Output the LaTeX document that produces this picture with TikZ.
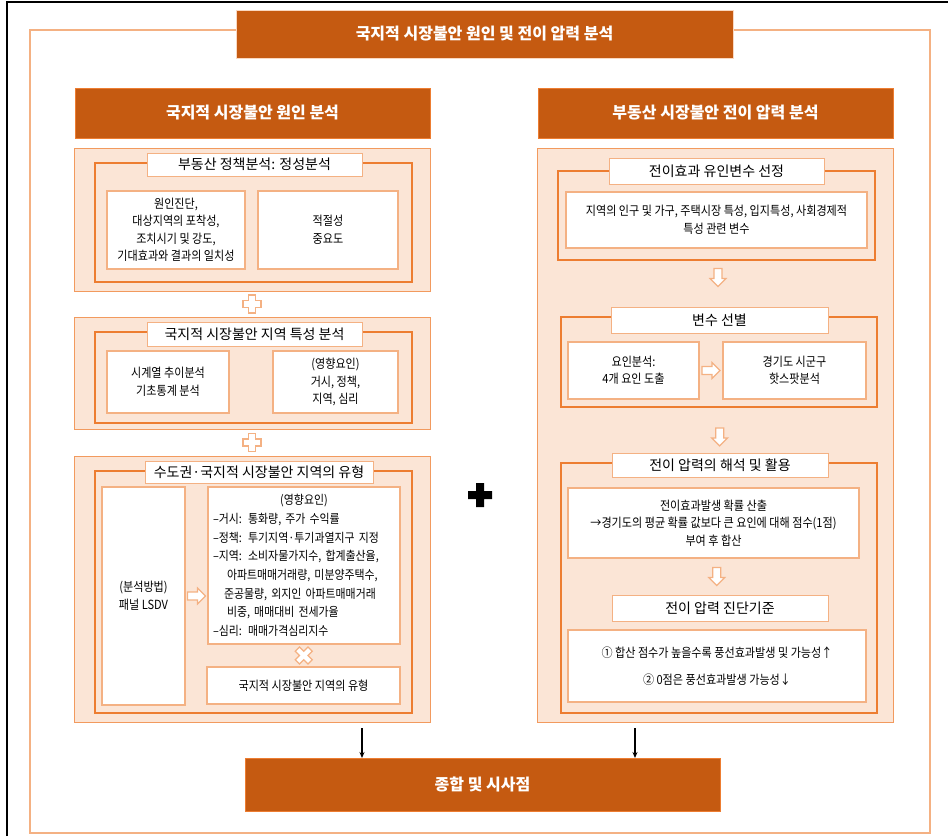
\documentclass[tikz,border=0pt]{standalone}
\usepackage{fontspec}
\newfontfamily\kr{Noto Sans CJK KR}
\newfontfamily\krc[FakeStretch=0.88]{Noto Sans CJK KR}
\usetikzlibrary{calc,arrows.meta}
\definecolor{dk}{HTML}{C55A11}
\definecolor{lt}{HTML}{FBE5D6}
\definecolor{orA}{HTML}{ED7D31}
\definecolor{orB}{HTML}{F4B183}
\definecolor{orC}{HTML}{F29A5E}
\newcommand\bx[7]{\node[#2, minimum width={#5-#3}, minimum height={#6-#4}] (#1) at ({(#3+#5)/2},{(#4+#6)/2}) {#7};}
\tikzset{
  base/.style={inner sep=0pt, outer sep=0pt, anchor=center},
  hdr/.style={base, fill=dk, draw=orA, line width=0.8pt, text=white, font=\kr\bfseries\fontsize{16}{19}\selectfont},
  panel/.style={base, fill=lt, draw=orC, line width=1pt},
  frame/.style={base, draw=orA, line width=2.4pt},
  lbl/.style={base, fill=white, draw=orB, line width=1pt, font=\kr\fontsize{14}{16}\selectfont},
  wbox/.style={base, fill=white, draw=orB, line width=1.3pt, align=center, font=\krc\fontsize{12.6}{17.5}\selectfont},
  hollow/.style={draw=orB, fill=white, line width=1.2pt, line join=miter},
  conn/.style={-{Stealth[length=6pt,width=5pt]}, line width=1.2pt, black},
  hplus/.pic={\draw[hollow] (-3.5,-9) -- (3.5,-9) -- (3.5,-3.5) -- (9,-3.5) -- (9,3.5) -- (3.5,3.5) -- (3.5,9) -- (-3.5,9) -- (-3.5,3.5) -- (-9,3.5) -- (-9,-3.5) -- (-3.5,-3.5) -- cycle;},
  hcross/.pic={\draw[hollow, rotate=45] (-3,-9) -- (3,-9) -- (3,-3) -- (9,-3) -- (9,3) -- (3,3) -- (3,9) -- (-3,9) -- (-3,3) -- (-9,3) -- (-9,-3) -- (-3,-3) -- cycle;},
  hdown/.pic={\draw[hollow] (-4,-9) -- (4,-9) -- (4,1) -- (8,1) -- (0,9) -- (-8,1) -- (-4,1) -- cycle;},
  hright/.pic={\draw[hollow] (-9,-4) -- (1,-4) -- (1,-8) -- (9,0) -- (1,8) -- (1,4) -- (-9,4) -- cycle;},
  bplus/.pic={\fill[black] (-4,-12) -- (4,-12) -- (4,-4) -- (12,-4) -- (12,4) -- (4,4) -- (4,12) -- (-4,12) -- (-4,4) -- (-12,4) -- (-12,-4) -- (-4,-4) -- cycle;},
}
\begin{document}
\begin{tikzpicture}[x=1pt,y=-1pt]
\useasboundingbox (0,0) rectangle (948,836);
\fill[white] (0,0) rectangle (948,836);
\draw[black, line width=1.2pt] (7,836) -- (7,2) -- (948,2);
\bx{outer}{base, draw=orB, line width=1.6pt}{30}{30}{930}{833}{}
\bx{title}{hdr, draw=orB!50}{236}{10}{733}{58}{국지적 시장불안 원인 및 전이 압력 분석}
\bx{lh}{hdr}{75}{88}{430}{138}{국지적 시장불안 원인 분석}
\bx{rh}{hdr}{538}{88}{893}{138}{부동산 시장불안 전이 압력 분석}
% left column
\bx{P1}{panel}{74}{148}{430}{291}{}
\bx{F1}{frame}{95}{163}{412}{282}{}
\bx{L1}{lbl}{147}{153}{362}{176}{부동산 정책분석: 정성분석}
\bx{B1a}{wbox}{107}{191}{245}{269}{원인진단,\\대상지역의 포착성,\\조치시기 및 강도,\\기대효과와 결과의 일치성}
\bx{B1b}{wbox}{258}{191}{398}{269}{적절성\\중요도}
\bx{P2}{panel}{74}{317}{430}{429}{}
\bx{F2}{frame}{95}{332}{412}{423}{}
\bx{L2}{lbl}{147}{322}{362}{346}{국지적 시장불안 지역 특성 분석}
\bx{B2a}{wbox}{107}{351}{229}{413}{시계열 추이분석\\기초통계 분석}
\bx{B2b}{wbox}{273}{351}{398}{413}{(영향요인)\\거시, 정책,\\지역, 심리}
\bx{P3}{panel}{74}{456}{430}{722}{}
\bx{F3}{frame}{95}{471}{412}{713}{}
\bx{L3}{lbl}{145}{461}{373}{483}{수도권·국지적 시장불안 지역의 유형}
\bx{B3a}{wbox}{102}{487}{185}{705}{(분석방법)\\패널 LSDV}
\bx{B3b}{wbox, text width=182pt, align=left, font=\krc\fontsize{12.4}{18.7}\selectfont}{208}{487}{400}{644}{\makebox[\linewidth]{(영향요인)}\\–거시: 통화량, 주가 수익률\\–정책: 투기지역·투기과열지구 지정\\–지역: 소비자물가지수, 합계출산율,\\\hspace*{14pt}아파트매매거래량, 미분양주택수,\\\hspace*{11pt}준공물량, 외지인 아파트매매거래\\\hspace*{14pt}비중, 매매대비 전세가율\\–심리: 매매가격심리지수}
\bx{B3c}{wbox}{207}{667}{400}{704}{국지적 시장불안 지역의 유형}
\pic at ($(P1.south)!0.5!(P2.north)$) {hplus};
\pic at ($(P2.south)!0.5!(P3.north)$) {hplus};
\pic at ($(B3a.east)!0.5!(B3b.west |- B3a.east)$) {hright};
\pic at ($(B3b.south)!0.5!(B3c.north)$) {hcross};
% right column
\bx{Q}{panel}{537}{148}{893}{722}{}
\bx{G1}{frame}{558}{171}{875}{260}{}
\bx{M1}{lbl}{609}{158}{824}{184}{전이효과 유인변수 선정}
\bx{C1}{wbox}{566}{192}{867}{248}{지역의 인구 및 가구, 주택시장 특성, 입지특성, 사회경제적\\특성 관련 변수}
\bx{G2}{frame}{561}{317}{877}{407}{}
\bx{M2}{lbl}{611}{307}{828}{333}{변수 선별}
\bx{C2a}{wbox}{568}{342}{699}{399}{요인분석:\\4개 요인 도출}
\bx{C2b}{wbox}{723}{342}{866}{399}{경기도 시군구\\핫스팟분석}
\bx{G3}{frame}{561}{463}{877}{713}{}
\bx{M3}{lbl}{612}{453}{828}{477}{전이 압력의 해석 및 활용}
\bx{C3}{wbox}{568}{488}{859}{558}{전이효과발생 확률 산출\\→경기도의 평균 확률 값보다 큰 요인에 대해 점수(1점)\\부여 후 합산}
\bx{M4}{lbl}{612}{595}{828}{621}{전이 압력 진단기준}
\bx{C4}{wbox}{568}{630}{866}{702}{① 합산 점수가 높을수록 풍선효과발생 및 가능성↑\\[10pt]② 0점은 풍선효과발생 가능성↓}
\pic at ($(C1.south)!0.5!(M2.north)$) {hdown};
\pic at ($(C2a.east)!0.5!(C2b.west)$) {hright};
\pic at ($(G2.south)!0.65!(M3.north)$) {hdown};
\pic at ($(C3.south)!0.5!(M4.north)$) {hdown};
% middle plus
\pic at (480,495) {bplus};
% summary
\bx{sum}{hdr}{245}{758}{720}{811}{종합 및 시사점}
\coordinate (s1) at (362,728);
\coordinate (s2) at (635,728);
\draw[conn] (s1) -- (s1 |- sum.north);
\draw[conn] (s2) -- (s2 |- sum.north);
\end{tikzpicture}
\end{document}
